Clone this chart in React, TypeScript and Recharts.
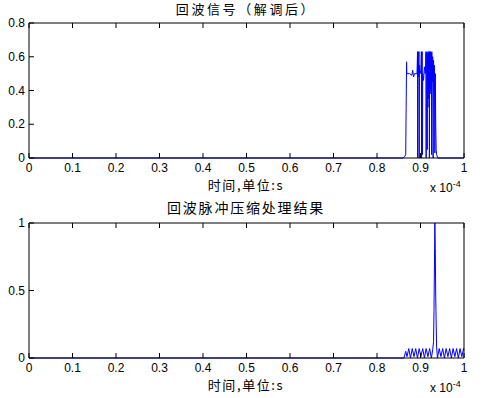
import { LineChart, Line, XAxis, YAxis } from 'recharts';

// time axis in units of 1e-4 s
const xTicks = [0, 0.1, 0.2, 0.3, 0.4, 0.5, 0.6, 0.7, 0.8, 0.9, 1];
const echoTicks = [0, 0.2, 0.4, 0.6, 0.8];
const compTicks = [0, 0.5, 1];

// demodulated echo signal
const echoT = [
  0, 0.86, 0.864, 0.866, 0.867, 0.868, 0.8685, 0.875, 0.88, 0.882, 0.884, 0.886, 0.892,
  0.8932, 0.8935, 0.894, 0.895, 0.8965, 0.897, 0.8975, 0.899, 0.901, 0.902, 0.9025,
  0.903, 0.904, 0.9045, 0.905, 0.907, 0.909, 0.911, 0.9125, 0.913, 0.9135, 0.915,
  0.9155, 0.916, 0.917, 0.918, 0.919, 0.92, 0.9205, 0.921, 0.922, 0.923, 0.924, 0.925,
  0.9255, 0.926, 0.927, 0.928, 0.929, 0.93, 0.931, 0.932, 0.933, 0.934, 0.935, 0.936,
  0.937, 0.94, 1,
];
const echoV = [
  0, 0, 0.01, 0.02, 0.3, 0.57, 0.5, 0.5, 0.49, 0.52, 0.48, 0.5, 0.5,
  0.63, 0, 0.63, 0.48, 0.63, 0, 0.55, 0.5, 0.52, 0.63, 0,
  0.6, 0.63, 0.02, 0.5, 0.46, 0.54, 0.5, 0.63, 0, 0.6, 0.63,
  0.05, 0.62, 0.3, 0.63, 0.35, 0.63, 0, 0.63, 0.4, 0.63, 0.38, 0.62,
  0.02, 0.63, 0.45, 0.6, 0, 0.58, 0.4, 0.55, 0.03, 0.5, 0.2, 0.05,
  0.02, 0, 0,
];

// pulse compression output
const compT = [
  0, 0.862, 0.866, 0.869, 0.873, 0.877, 0.881, 0.885, 0.889, 0.893, 0.897, 0.901, 0.905,
  0.909, 0.913, 0.917, 0.921, 0.925, 0.928, 0.93, 0.931, 0.933, 0.934, 0.935, 0.937,
  0.939, 0.943, 0.947, 0.951, 0.955, 0.959, 0.963, 0.967, 0.971, 0.975, 0.979, 0.983,
  0.987, 0.991, 0.995, 0.999, 1,
];
const compV = [
  0, 0, 0.05, 0.01, 0.07, 0, 0.07, 0.01, 0.07, 0, 0.07, 0.01, 0.07,
  0, 0.07, 0.01, 0.07, 0, 0.06, 0.12, 0.35, 1, 0.81, 0.45, 0.08,
  0, 0.07, 0.01, 0.07, 0, 0.07, 0.01, 0.07, 0, 0.07, 0.01, 0.07,
  0, 0.07, 0.01, 0.07, 0.06,
];

const echoData = echoT.map((t, i) => ({ t, v: echoV[i] }));
const compData = compT.map((t, i) => ({ t, v: compV[i] }));

const numFont = '"Liberation Sans", Arial, sans-serif';
const cjkFont = '"Noto Sans CJK SC", sans-serif';

const BottomTick = (props: any) => {
  const { x, y, payload } = props;
  return (
    <g>
      <line x1={x} x2={x} y1={y} y2={y - 5} stroke="#000" />
      <text x={x} y={y + 14} textAnchor="middle" fontSize={12} fontFamily={numFont} fill="#000">
        {payload.value}
      </text>
    </g>
  );
};

const TopTick = (props: any) => {
  const { x, y } = props;
  return <line x1={x} x2={x} y1={y} y2={y + 5} stroke="#000" />;
};

const LeftTick = (props: any) => {
  const { x, y, payload } = props;
  return (
    <g>
      <line x1={x} x2={x + 5} y1={y} y2={y} stroke="#000" />
      <text x={x - 4} y={y + 4} textAnchor="end" fontSize={12} fontFamily={numFont} fill="#000">
        {payload.value}
      </text>
    </g>
  );
};

const RightTick = (props: any) => {
  const { x, y } = props;
  return <line x1={x} x2={x - 5} y1={y} y2={y} stroke="#000" />;
};

function Panel({ data, yMax, yTicks }: { data: any[]; yMax: number; yTicks: number[] }) {
  return (
    <LineChart width={489} height={200} data={data} margin={{ top: 0, right: 0, bottom: 0, left: 0 }}>
      <XAxis
        dataKey="t"
        type="number"
        domain={[0, 1]}
        ticks={xTicks}
        interval={0}
        tickSize={0}
        tickMargin={0}
        height={42}
        tick={<BottomTick />}
        axisLine={{ stroke: '#000' }}
      />
      <XAxis
        xAxisId="top"
        orientation="top"
        dataKey="t"
        type="number"
        domain={[0, 1]}
        ticks={xTicks}
        interval={0}
        tickSize={0}
        tickMargin={0}
        height={23}
        tick={<TopTick />}
        axisLine={{ stroke: '#000' }}
      />
      <YAxis
        type="number"
        domain={[0, yMax]}
        ticks={yTicks}
        interval={0}
        tickSize={0}
        tickMargin={0}
        width={29}
        tick={<LeftTick />}
        axisLine={{ stroke: '#000' }}
      />
      <YAxis
        yAxisId="right"
        orientation="right"
        type="number"
        domain={[0, yMax]}
        ticks={yTicks}
        interval={0}
        tickSize={0}
        tickMargin={0}
        width={25}
        tick={<RightTick />}
        axisLine={{ stroke: '#000' }}
      />
      <Line type="linear" dataKey="v" stroke="#0000ff" strokeWidth={1} dot={false} isAnimationActive={false} />
    </LineChart>
  );
}

const centerText = (top: number, text: string, size: number, spacing: number) => (
  <div
    style={{
      position: 'absolute',
      left: 0,
      width: 492,
      top,
      textAlign: 'center',
      fontFamily: cjkFont,
      fontSize: size,
      letterSpacing: spacing,
      lineHeight: `${size + 2}px`,
      color: '#000',
      whiteSpace: 'nowrap',
    }}
  >
    {text}
  </div>
);

const expLabel = (top: number) => (
  <div style={{ position: 'absolute', left: 430, top, fontFamily: numFont, fontSize: 12, color: '#000', whiteSpace: 'nowrap' }}>
    x 10<sup style={{ fontSize: 9 }}>-4</sup>
  </div>
);

export default function App() {
  return (
    <div style={{ position: 'absolute', left: 0, top: 0, width: 489, height: 398, background: '#fff', overflow: 'hidden' }}>
      {centerText(1, '回波信号（解调后）', 13, 2.6)}
      <div style={{ position: 'absolute', left: 0, top: 0 }}>
        <Panel data={echoData} yMax={0.8} yTicks={echoTicks} />
      </div>
      {centerText(177, '时间,单位:s', 13, 1.6)}
      {expLabel(179)}
      {centerText(199, '回波脉冲压缩处理结果', 14, 1.8)}
      <div style={{ position: 'absolute', left: 0, top: 200 }}>
        <Panel data={compData} yMax={1} yTicks={compTicks} />
      </div>
      {centerText(377, '时间,单位:s', 13, 1.6)}
      {expLabel(379)}
    </div>
  );
}
